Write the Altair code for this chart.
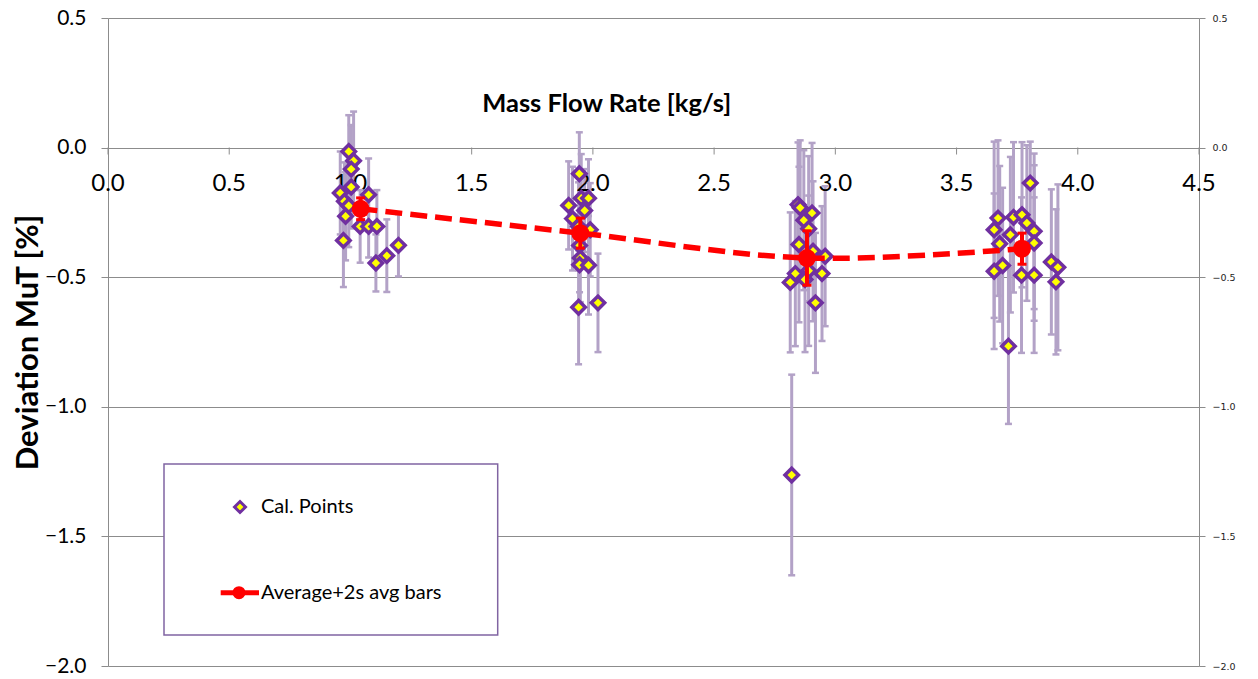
import altair as alt
import pandas as pd

# ---------------- data ----------------
cal_x = [0.993, 1.013, 1.003, 1.003, 0.958, 1.075, 0.975, 0.993, 0.980, 1.040, 1.075, 1.109, 0.971, 1.198, 1.150, 1.105,
         1.944, 1.952, 1.982, 1.900, 1.966, 1.916, 1.941, 1.989, 1.945, 1.948, 1.945, 1.982, 1.941, 2.021,
         2.846, 2.855, 2.904, 2.870, 2.890, 2.850, 2.908, 2.958, 2.835, 2.814, 2.890, 2.945, 2.875, 2.918, 2.820,
         3.804, 3.671, 3.735, 3.770, 3.790, 3.655, 3.722, 3.820, 3.678, 3.820, 3.655, 3.690, 3.768, 3.820, 3.891, 3.918, 3.910, 3.714]
cal_y = [-0.015, -0.051, -0.083, -0.152, -0.175, -0.182, -0.207, -0.224, -0.265, -0.304, -0.304, -0.304, -0.358, -0.377, -0.417, -0.445,
         -0.101, -0.195, -0.195, -0.223, -0.243, -0.274, -0.304, -0.317, -0.378, -0.426, -0.452, -0.454, -0.616, -0.599,
         -0.220, -0.232, -0.252, -0.280, -0.313, -0.374, -0.400, -0.419, -0.486, -0.520, -0.475, -0.486, -0.509, -0.599, -1.263,
         -0.137, -0.272, -0.269, -0.259, -0.291, -0.317, -0.336, -0.323, -0.371, -0.368, -0.477, -0.455, -0.492, -0.492, -0.441, -0.462, -0.518, -0.766]
cal_err = [0.14, 0.19, 0.17, 0.16, 0.16, 0.14, 0.15, 0.16, 0.17, 0.14, 0.12, 0.14, 0.18, 0.12, 0.14, 0.11,
           0.16, 0.17, 0.15, 0.17, 0.16, 0.20, 0.17, 0.18, 0.18, 0.17, 0.16, 0.19, 0.22, 0.19,
           0.24, 0.26, 0.27, 0.27, 0.28, 0.30, 0.27, 0.27, 0.28, 0.27, 0.29, 0.26, 0.28, 0.27, 0.387,
           0.16, 0.30, 0.29, 0.28, 0.30, 0.34, 0.30, 0.30, 0.30, 0.30, 0.30, 0.30, 0.30, 0.30, 0.28, 0.32, 0.28, 0.30]

avg_x = [1.042, 1.948, 2.883, 3.770]
avg_y = [-0.236, -0.330, -0.426, -0.390]
avg_err = [0.042, 0.058, 0.105, 0.060]

x_ticks = [0.0, 0.5, 1.0, 1.5, 2.0, 2.5, 3.0, 3.5, 4.0, 4.5]
y_ticks = [0.5, 0.0, -0.5, -1.0, -1.5, -2.0]
legend_labels = ["Cal. Points", "Average+2s avg bars"]

x_title = "Mass Flow Rate [kg/s]"
y_title = "Deviation MuT [%]"

# ---------------- tables ----------------
cal = pd.DataFrame({"x": cal_x, "y": cal_y, "e": cal_err})
cal["lo"] = cal["y"] - cal["e"]
cal["hi"] = cal["y"] + cal["e"]
avg = pd.DataFrame({"x": avg_x, "y": avg_y, "e": avg_err})
avg["lo"] = avg["y"] - avg["e"]
avg["hi"] = avg["y"] + avg["e"]
xt = pd.DataFrame({"t": x_ticks, "label": [f"{v:.1f}" for v in x_ticks]})
one = pd.DataFrame({"k": [0]})

W, H = 1091, 648
GRAY = "#8C8C8C"
FONT = "Lato"
LAV = "#B3A2C7"
PURPLE = "#7030A0"
RED = "#FF0000"

xs = alt.Scale(domain=[0, 4.5], nice=False, zero=False)
ys = alt.Scale(domain=[-2.0, 0.5], nice=False, zero=False)

y_axis_left = alt.Axis(
    values=y_ticks, format=".1f", orient="left",
    grid=True, gridColor=GRAY, gridWidth=1, domainColor=GRAY, tickColor=GRAY, tickSize=7,
    labelFont=FONT, labelFontSize=21, labelColor="black", labelPadding=15, labelFlush=False,
    title=y_title, titleFont=FONT, titleFontSize=31, titleFontWeight="bold", titleColor="black",
    titleX=-80, titleY=H / 2, titleAngle=-90, titleAlign="center", titleBaseline="middle",
)
y_axis_right = alt.Axis(
    values=y_ticks, format=".1f", orient="right",
    grid=False, domainColor=GRAY, tickColor=GRAY, tickSize=6,
    labelFont="DejaVu Sans", labelFontSize=9.5, labelColor="#222222", labelPadding=7, labelFlush=False,
    title=None,
)

XN = lambda f: alt.X(f, scale=xs, axis=None)
YN = lambda f: alt.Y(f, scale=ys, axis=None)
Y0 = alt.Y(datum=0.0, type="quantitative", scale=ys, axis=None)

# x axis drawn along y = 0: tick marks and labels
x_tickmarks = alt.Chart(xt).mark_tick(orient="vertical", color=GRAY, size=7, thickness=1, opacity=1, yOffset=3.5).encode(
    x=XN("t:Q"), y=Y0
)
x_labels = alt.Chart(xt).mark_text(font=FONT, fontSize=24, color="black", baseline="middle", align="center", dy=36).encode(
    x=XN("t:Q"), y=Y0, text="label:N"
)
x_title_mark = alt.Chart(one).mark_text(
    font=FONT, fontSize=25.5, fontWeight="bold", color="black", baseline="middle", align="center"
).encode(x=alt.value(498.7), y=alt.value(86), text=alt.value(x_title))

# error bars of calibration points (carry the left y axis)
cal_bars = alt.Chart(cal).mark_rule(color=LAV, strokeWidth=3).encode(
    x=XN("x:Q"),
    y=alt.Y("lo:Q", scale=ys, axis=y_axis_left),
    y2="hi:Q",
)
cal_cap_lo = alt.Chart(cal).mark_tick(orient="horizontal", color=LAV, size=7, thickness=2.5, opacity=1).encode(
    x=XN("x:Q"),
    y=alt.Y("lo:Q", scale=ys, axis=y_axis_right),
)
cal_cap_hi = alt.Chart(cal).mark_tick(orient="horizontal", color=LAV, size=7, thickness=2.5, opacity=1).encode(
    x=XN("x:Q"), y=YN("hi:Q"),
)
cal_pts = alt.Chart(cal).mark_point(
    shape="diamond", filled=True, fill="#FFFF00", stroke=PURPLE, strokeWidth=3.5, size=180, opacity=1
).encode(x=XN("x:Q"), y=YN("y:Q"))

avg_line = alt.Chart(avg).mark_line(
    color=RED, strokeWidth=5.5, strokeDash=[17, 8], interpolate="catmull-rom"
).encode(x=XN("x:Q"), y=YN("y:Q"))
avg_bars = alt.Chart(avg).mark_rule(color=RED, strokeWidth=4).encode(
    x=XN("x:Q"), y=YN("lo:Q"), y2="hi:Q",
)
avg_cap_lo = alt.Chart(avg).mark_tick(orient="horizontal", color=RED, size=9, thickness=3, opacity=1).encode(
    x=XN("x:Q"), y=YN("lo:Q"),
)
avg_cap_hi = alt.Chart(avg).mark_tick(orient="horizontal", color=RED, size=9, thickness=3, opacity=1).encode(
    x=XN("x:Q"), y=YN("hi:Q"),
)
avg_pts = alt.Chart(avg).mark_circle(color=RED, size=324, opacity=1).encode(
    x=XN("x:Q"), y=YN("y:Q"),
)

# ---------------- legend (drawn by hand) ----------------
leg_box = alt.Chart(one).mark_rect(fill="white", stroke="#8064A2", strokeWidth=1.5).encode(
    x=alt.value(56), x2=alt.value(389.7), y=alt.value(446), y2=alt.value(617)
)
leg_diamond = alt.Chart(one).mark_point(
    shape="diamond", filled=True, fill="#FFFF00", stroke=PURPLE, strokeWidth=3, size=120, opacity=1
).encode(x=alt.value(132), y=alt.value(489))
leg_text1 = alt.Chart(one).mark_text(align="left", baseline="middle", font=FONT, fontSize=20, color="black").encode(
    x=alt.value(153), y=alt.value(489), text=alt.value(legend_labels[0])
)
leg_line = alt.Chart(one).mark_rule(color=RED, strokeWidth=5).encode(
    x=alt.value(112.7), x2=alt.value(151), y=alt.value(574.7)
)
leg_circle = alt.Chart(one).mark_circle(color=RED, size=170, opacity=1).encode(
    x=alt.value(131), y=alt.value(574.7)
)
leg_text2 = alt.Chart(one).mark_text(align="left", baseline="middle", font=FONT, fontSize=20, color="black").encode(
    x=alt.value(153), y=alt.value(575), text=alt.value(legend_labels[1])
)

chart = alt.layer(
    cal_bars, cal_cap_lo, x_tickmarks, x_labels, x_title_mark, cal_cap_hi, cal_pts,
    avg_line, avg_bars, avg_cap_lo, avg_cap_hi, avg_pts,
    leg_box, leg_diamond, leg_text1, leg_line, leg_circle, leg_text2,
).resolve_axis(y="independent").properties(
    width=W, height=H,
    padding={"left": 108, "top": 18, "right": 59, "bottom": 13},
    autosize=alt.AutoSizeParams(type="none"),
    background="white",
).configure_view(stroke=None)

chart.save("out.html", embed_options={"renderer": "svg", "actions": False})
